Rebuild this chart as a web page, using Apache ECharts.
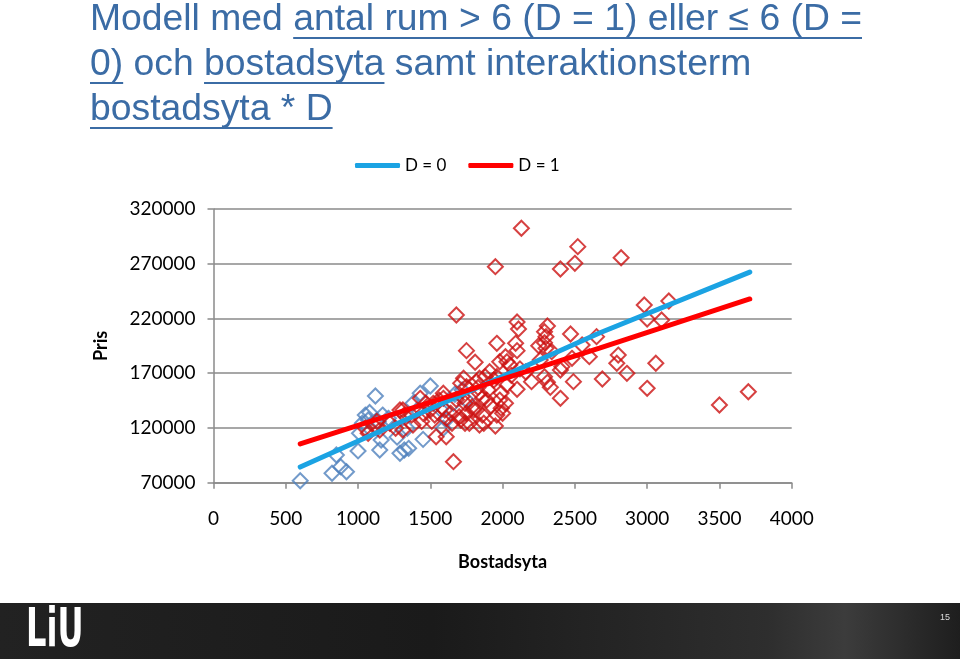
<!DOCTYPE html>
<html><head><meta charset="utf-8">
<script src="https://cdn.jsdelivr.net/npm/echarts@6/dist/echarts.min.js"></script>
<style>html,body{margin:0;padding:0;background:#fff}#c{width:960px;height:659px}</style>
</head><body><div id="c"></div>
<script>
// ---- text ----
const titleLine1 = [["Modell med ", false], ["antal rum > 6 (D = 1) eller \u2264 6 (D =", true]];
const titleLine2 = [["0)", true], [" och ", false], ["bostadsyta", true], [" samt interaktionsterm", false]];
const titleLine3 = [["bostadsyta * D", true]];
const legendNames = ["D = 0", "D = 1"];
const xAxisName = "Bostadsyta";
const yAxisName = "Pris";
const xTickLabels = ["0", "500", "1000", "1500", "2000", "2500", "3000", "3500", "4000"];
const yTickLabels = ["70000", "120000", "170000", "220000", "270000", "320000"];
const slideNumber = "15";

// ---- data: [bostadsyta, pris] ----
const d0Points = [
  [600,71800],[820,78600],[880,84600],[920,80000],[850,95300],[1000,99000],[1120,149200],
  [1050,131800],[1070,127300],[1030,124300],[1010,115100],[1150,99900],[1160,109000],
  [1290,96900],[1320,99900],[1350,101400],[1170,131800],[1210,128800],[1340,119700],
  [1450,109600],[1430,151700],[1500,158300],[1380,142500],[1410,136400],[1590,119700],
  [1610,127300],[1660,142500],[1720,154700],[1750,145500],[1270,111600],[1570,137000],
  [1670,150800],[1080,134100],[1140,126000]
];
const d1Points = [
  [2130,302400],[1950,267300],[2400,265200],[2500,270400],[2520,285600],[2820,275500],
  [1680,223200],[2100,216800],[2110,210400],[2310,213100],[2290,207900],[2300,203300],
  [2290,197900],[2470,205800],[2650,203400],[1750,190600],[1810,180000],[1960,197300],
  [2090,197300],[2100,190600],[2020,185100],[1980,180500],[2030,180500],[2050,177500],
  [2250,195100],[2300,192800],[2340,189700],[2260,182100],[2290,166800],[2310,161700],
  [2330,157100],[2480,183600],[2600,185100],[2410,176000],[2400,172900],[2490,162300],
  [2690,164700],[2400,147100],[1730,165400],[1710,160800],[1750,157700],[1820,162300],
  [1840,165400],[1910,171400],[1880,166800],[1940,163800],[1960,166800],[2030,159200],
  [2100,155300],[1900,154700],[1840,151700],[1860,147100],[1890,145500],[1980,145500],
  [2020,142500],[1990,138000],[1960,131800],[2000,133400],[1950,121800],[1740,142500],
  [1790,139400],[1750,133400],[1820,136400],[1710,127300],[1770,124300],[1860,131800],
  [1870,124300],[1840,122700],[1520,142500],[1560,145500],[1590,147100],[1430,147100],
  [1470,142500],[1500,136400],[1450,133400],[1600,136400],[1640,133400],[1610,128800],
  [1650,124300],[1540,112000],[1610,112000],[1660,89200],[1310,136400],[1370,131800],
  [1380,122700],[1530,131800],[1720,148600],[1590,151700],[1510,126000],[1290,136400],
  [1320,131800],[1220,124300],[1260,119700],[1130,126000],[1110,121800],[1150,118100],
  [1050,119700],[1070,115100],[1740,124300],[1800,136400],[1310,118100],[2550,195800],
  [2800,186600],[2790,179100],[3060,179100],[2860,169900],[3000,156200],[3500,141000],
  [3700,153100],[2980,232300],[3150,236000],[3000,219500],[3100,218600],[2160,171100],
  [2200,162300],[1700,130300],[1920,140000],[2060,168000],[2120,174000],[1990,152000],
  [1680,146000],[1440,126000],[1830,157000]
];
const d0Fit = [[600,84300],[2670,206700],[3710,262400]];
const d1Fit = [[600,105400],[2670,193000],[3710,237800]];

// ---- title graphics (measured text, underlines for linked parts) ----
const titleColor = "#3B6CA5";
const titleFont = '36px "Liberation Sans", Arial, sans-serif';
const ctx = document.createElement("canvas").getContext("2d");
ctx.font = titleFont;
const w1 = titleLine1.reduce((s, g) => s + ctx.measureText(g[0]).width, 0);
const sx = 772 / w1;
const graphics = [];
[titleLine1, titleLine2, titleLine3].forEach((segs, i) => {
  const cy = [20, 65, 110][i];
  let x = 90;
  segs.forEach(([t, ul]) => {
    const w = ctx.measureText(t).width * sx;
    graphics.push({ type: "text", x: x, y: cy, scaleX: sx, style: { text: t, font: titleFont, fill: titleColor, verticalAlign: "middle" } });
    if (ul) graphics.push({ type: "rect", shape: { x: x, y: cy + 17, width: w, height: 2 }, style: { fill: titleColor } });
    x += w;
  });
});
// footer band
graphics.push({ type: "rect", shape: { x: 0, y: 603, width: 960, height: 56 },
  style: { fill: new echarts.graphic.LinearGradient(0, 0, 1, 0, [
    { offset: 0, color: "#222222" }, { offset: 0.45, color: "#1a1a1a" },
    { offset: 0.8, color: "#2e2e2e" }, { offset: 0.88, color: "#3c3c3c" }, { offset: 1, color: "#1e1e1e" }]) } });
graphics.push({ type: "text", x: 26, y: 632, scaleX: 0.66, style: { text: "LiU", font: 'bold 54px "DejaVu Sans Condensed", "DejaVu Sans", sans-serif', fill: "#ffffff", verticalAlign: "middle" } });
graphics.push({ type: "text", x: 945, y: 618, style: { text: slideNumber, font: '9px "Liberation Sans", Arial, sans-serif', fill: "#dddddd", align: "center", verticalAlign: "middle" } });

const labelFont = { fontFamily: "Lato", fontSize: 19, color: "#000" };
const axisGray = "#8a8a8a";

const chart = echarts.init(document.getElementById("c"), null, { renderer: "canvas" });
chart.setOption({
  animation: false,
  backgroundColor: "#ffffff",
  grid: { left: 213.5, right: 168.3, top: 209, bottom: 176.3, containLabel: false },
  legend: {
    data: legendNames, left: 350, top: 152, itemWidth: 45, itemHeight: 5, itemGap: 22,
    icon: "roundRect",
    textStyle: { fontFamily: "Lato", fontSize: 17, color: "#000" }
  },
  xAxis: {
    type: "value", min: 0, max: 4000, interval: 500,
    name: xAxisName, nameLocation: "middle", nameGap: 70,
    nameTextStyle: { fontFamily: "Lato", fontSize: 18, fontWeight: "bold", color: "#000" },
    axisLine: { show: true, onZero: false, lineStyle: { color: axisGray, width: 1.5 } },
    axisTick: { show: true, inside: false, length: 6, lineStyle: { color: axisGray, width: 1.5 } },
    axisLabel: Object.assign({ margin: 27, formatter: (v) => xTickLabels[Math.round(v / 500)] }, labelFont),
    splitLine: { show: false }
  },
  yAxis: [
    { type: "value", min: 70000, max: 320000, show: false },
    {
      type: "value", min: 0, max: 250000, interval: 50000, position: "left",
      name: yAxisName, nameLocation: "middle", nameGap: 103, nameRotate: 90,
      nameTextStyle: { fontFamily: "Lato", fontSize: 18, fontWeight: "bold", color: "#000" },
      axisLine: { show: true, lineStyle: { color: axisGray, width: 1.5 } },
      axisTick: { show: true, inside: false, length: 6, lineStyle: { color: axisGray, width: 1.5 } },
      axisLabel: Object.assign({ margin: 18, formatter: (v) => yTickLabels[Math.round(v / 50000)] }, labelFont),
      splitLine: { show: true, lineStyle: { color: axisGray, width: 1.5 } }
    }
  ],
  series: [
    { name: "D0 obs", type: "scatter", yAxisIndex: 0, data: d0Points, symbol: "diamond", symbolSize: 15, z: 2,
      itemStyle: { color: "rgba(0,0,0,0)", borderColor: "#4F81BD", borderWidth: 2 } },
    { name: "D1 obs", type: "scatter", yAxisIndex: 0, data: d1Points, symbol: "diamond", symbolSize: 15, z: 2,
      itemStyle: { color: "rgba(0,0,0,0)", borderColor: "#CC1111", borderWidth: 2 } },
    { name: legendNames[0], type: "line", yAxisIndex: 0, data: d0Fit, symbol: "none", showSymbol: false, z: 3,
      lineStyle: { color: "#1BA3E3", width: 5, cap: "round" }, itemStyle: { color: "#1BA3E3" } },
    { name: legendNames[1], type: "line", yAxisIndex: 0, data: d1Fit, symbol: "none", showSymbol: false, z: 3,
      lineStyle: { color: "#FF0000", width: 5, cap: "round" }, itemStyle: { color: "#FF0000" } }
  ],
  graphic: graphics
});
</script>
</body></html>
